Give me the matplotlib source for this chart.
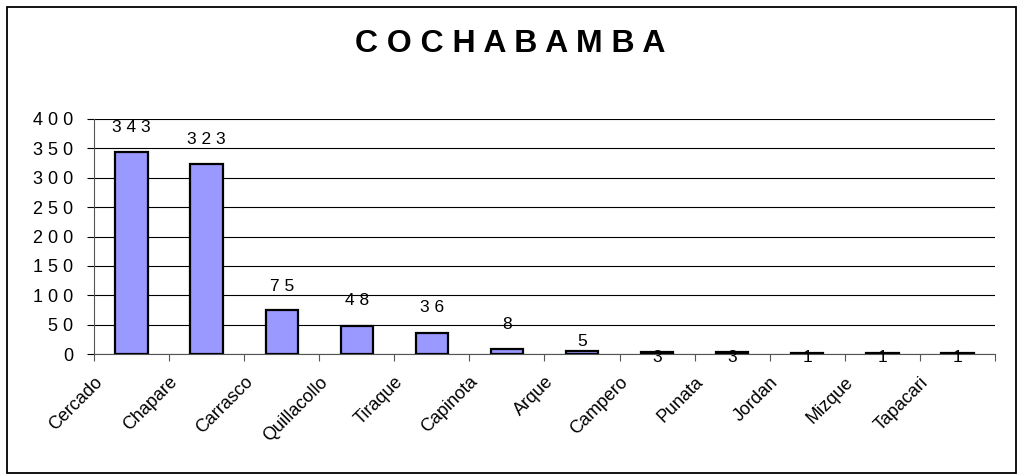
import matplotlib
matplotlib.use("Agg")
import matplotlib.pyplot as plt
from matplotlib.patches import Rectangle

provincias = ["Cercado", "Chapare", "Carrasco", "Quillacollo", "Tiraque", "Capinota",
              "Arque", "Campero", "Punata", "Jordan", "Mizque", "Tapacari"]
casos = [343, 323, 75, 48, 36, 8, 5, 3, 3, 1, 1, 1]
y_ticks = [0, 50, 100, 150, 200, 250, 300, 350, 400]
titulo = "COCHABAMBA"

# vertical offset (points) of each value label from the bar top
label_offsets = [18, 18, 17, 18, 18, 18, 7, -4, -4, -3, -3, -3]

plt.rcParams["font.family"] = ["Liberation Sans", "DejaVu Sans"]


def spaced(s, gap=" "):
    return gap.join(str(s))


fig = plt.figure(figsize=(10.18, 4.75), dpi=100)
fig.patch.set_facecolor("white")
fig.add_artist(Rectangle((7 / 1018, 2 / 475), 1009 / 1018, 466 / 475,
                         transform=fig.transFigure, fill=False,
                         edgecolor="black", linewidth=1.3))

ax = fig.add_axes([0.0923, 0.2547, 0.8851, 0.4948])
x = list(range(len(provincias)))
ax.bar(x, casos, width=0.43, color="#9999FF", edgecolor="black", linewidth=1.6,
       zorder=3)

ax.set_xlim(-0.5, len(provincias) - 0.5)
ax.set_ylim(0, 400)
ax.set_yticks(y_ticks)
ax.set_yticklabels([spaced(v) for v in y_ticks], fontsize=13)
ax.yaxis.grid(True, color="black", linewidth=0.8, zorder=0)
ax.set_axisbelow(True)

# category ticks sit on the boundaries between bars
ax.set_xticks([i - 0.5 for i in range(len(provincias) + 1)])
ax.set_xticklabels([])
ax.tick_params(axis="x", direction="out", length=5, width=0.8, color="#555555")
ax.tick_params(axis="y", direction="out", length=5, width=0.8, pad=10)

for side in ("top", "right"):
    ax.spines[side].set_visible(False)
ax.spines["left"].set_color("#555555")
ax.spines["bottom"].set_color("#555555")
ax.spines["left"].set_linewidth(0.8)
ax.spines["bottom"].set_linewidth(0.8)

for i, name in enumerate(provincias):
    ax.annotate(name, xy=(i, 0), xytext=(-27, -14), textcoords="offset points",
                ha="right", va="top", rotation=45, rotation_mode="anchor",
                fontsize=13)

for i, v in enumerate(casos):
    ax.annotate(spaced(v), xy=(i, v), xytext=(0, label_offsets[i]),
                textcoords="offset points", ha="center", va="center",
                fontsize=12.5)

fig.text(510 / 1018, 1 - 44 / 475, spaced(titulo), ha="center", va="center",
         fontsize=23, fontweight="bold")

fig.savefig("out.png", dpi=100)
